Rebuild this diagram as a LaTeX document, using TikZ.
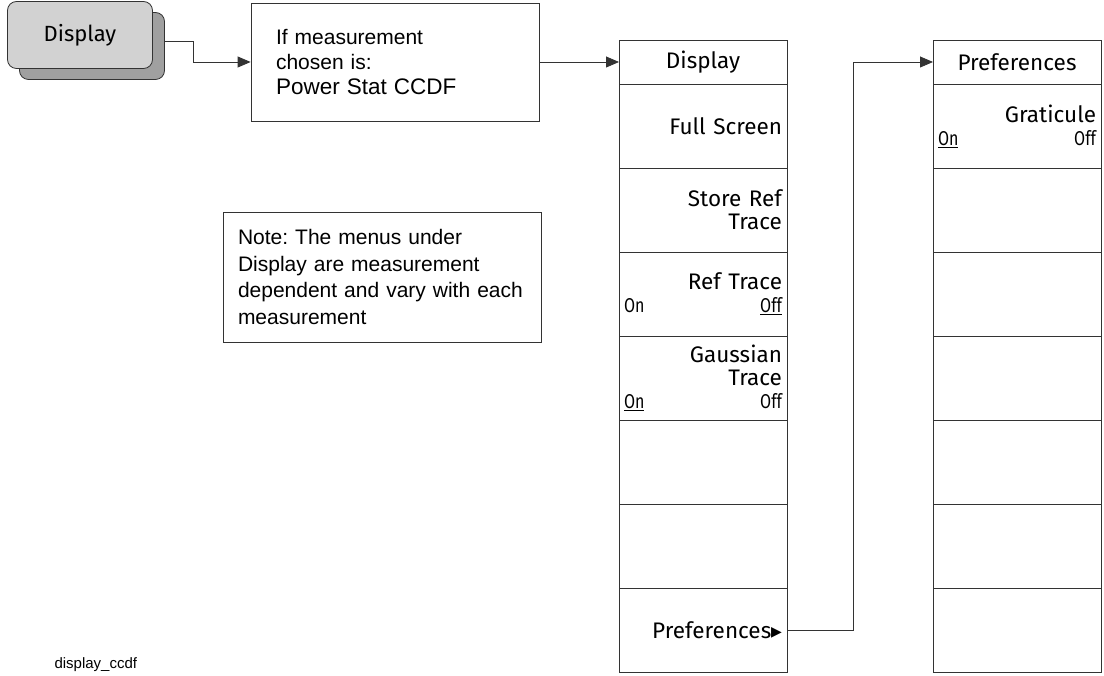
\documentclass[tikz,border=0pt]{standalone}
\usepackage{fontspec}
\usetikzlibrary{arrows.meta, positioning, calc}
\setmainfont{Liberation Sans}
\newfontfamily\keyfont{Fira Sans}
\newfontfamily\onofffont[FakeStretch=0.8]{Fira Sans}
\newfontfamily\symfont{DejaVu Sans}
\definecolor{KeyGray}{HTML}{D2D2D2}
\definecolor{ShadeGray}{HTML}{A0A0A0}
\frenchspacing
\tikzset{
  softkey/.style={draw=black!80, line width=0.8pt, minimum width=168pt, minimum height=84pt,
                  text width=158pt, align=right, inner sep=0pt, outer sep=0pt,
                  font=\keyfont\fontsize{22.5}{23}\selectfont},
  menuhead/.style={softkey, minimum height=44pt, align=center},
  textbox/.style={draw=black!80, line width=0.8pt, align=left, inner sep=0pt,
                  font=\fontsize{21}{25}\selectfont},
  hardkey/.style={draw=black!80, line width=0.8pt, rounded corners=9pt, minimum width=145pt,
                  minimum height=67pt, font=\keyfont\fontsize{22}{22}\selectfont},
  arr/.style={-{Triangle[length=13pt,width=11pt]}, line width=0.8pt, draw=black!80}
}
\newcommand{\onoff}[2]{\makebox[158pt]{\onofffont\fontsize{20}{21}\selectfont #1\hfill #2}}

\begin{document}
\begin{tikzpicture}[x=1pt,y=-1pt]
  \useasboundingbox (0,0) rectangle (1104,676);
  % front panel key
  \node[hardkey,fill=ShadeGray] (dkeys) at (92,46) {};
  \node[hardkey,fill=KeyGray] (dkey) at (80,35) {Display};
  % condition and note
  \node[textbox,minimum width=288pt,minimum height=118pt,text width=238pt] (cond) at (395,62)
    {If measurement\\chosen is:\\{\fontsize{22.5}{25}\selectfont Power Stat CCDF}};
  \node[textbox,minimum width=318pt,minimum height=130pt,text width=288pt,
        font=\fontsize{21}{26.5}\selectfont] (note) at (382,277)
    {Note: The menus under\\Display are measurement\\dependent and vary with each\\measurement};
  % Display menu
  \node[menuhead,anchor=north west] (dh) at (619,40) {Display};
  \node[softkey,below=0pt of dh] (d1) {Full Screen};
  \node[softkey,below=0pt of d1] (d2) {Store Ref\\Trace};
  \node[softkey,below=0pt of d2] (d3) {Ref Trace\\\onoff{On}{\underline{Off}}};
  \node[softkey,below=0pt of d3] (d4) {Gaussian\\Trace\\\onoff{\underline{On}}{Off}};
  \node[softkey,below=0pt of d4] (d5) {};
  \node[softkey,below=0pt of d5] (d6) {};
  \node[softkey,below=0pt of d6] (d7)
    {Preferences\raisebox{1.5pt}{\symfont\fontsize{14}{14}\selectfont ▶}};
  % Preferences menu
  \node[menuhead,anchor=north west] (ph) at (933,40) {Preferences};
  \node[softkey,below=0pt of ph] (p1) {Graticule\\\onoff{\underline{On}}{Off}};
  \node[softkey,below=0pt of p1] (p2) {};
  \node[softkey,below=0pt of p2] (p3) {};
  \node[softkey,below=0pt of p3] (p4) {};
  \node[softkey,below=0pt of p4] (p5) {};
  \node[softkey,below=0pt of p5] (p6) {};
  \node[softkey,below=0pt of p6] (p7) {};
  % connectors
  \draw[arr] ([yshift=5pt]dkeys.east) -- ++(28,0) |- (cond.west);
  \draw[arr] (cond.east) -- (dh.west);
  \draw[arr] (d7.east) -- ++(66,0) |- (ph.west);
  \node[anchor=base west,font=\fontsize{15}{15}\selectfont] (fname) at (51,668) {display\_ccdf};
\end{tikzpicture}
\end{document}
